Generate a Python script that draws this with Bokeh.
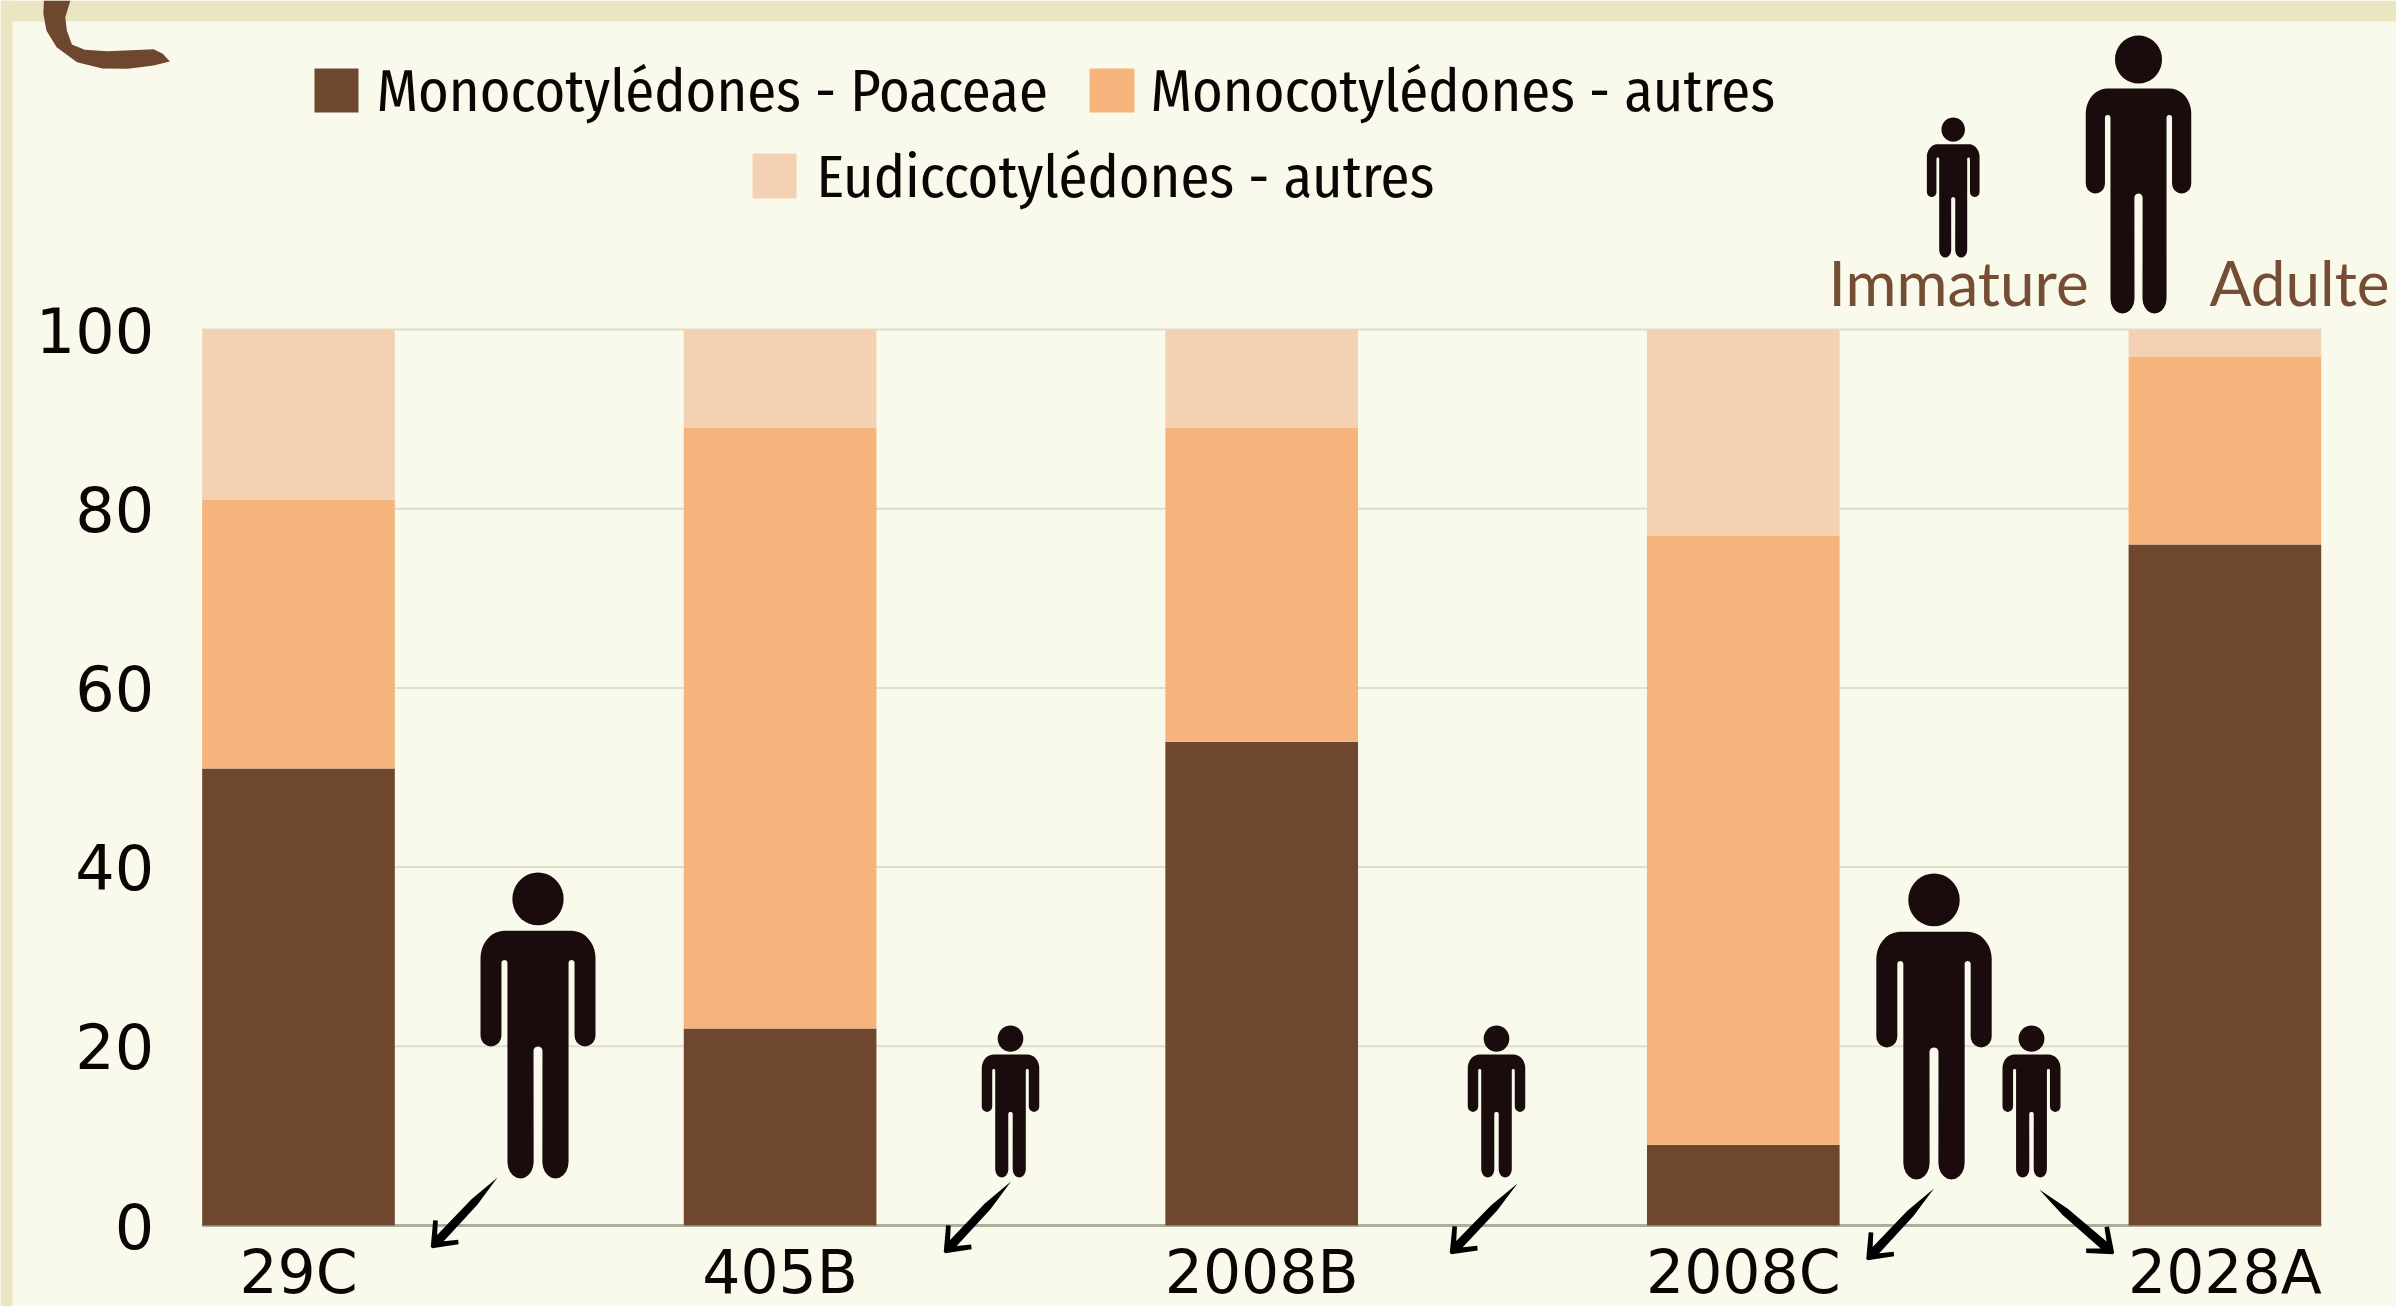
import math
from bokeh.plotting import figure
from bokeh.models import Range1d, FixedTicker, PolyAnnotation, Label, ColumnDataSource
from bokeh.embed import file_html
from bokeh.resources import INLINE

# ---- data ----
categories = ["29C", "405B", "2008B", "2008C", "2028A"]
poaceae = [51, 22, 54, 9, 76]
mono_autres = [30, 67, 35, 68, 21]
eudi_autres = [19, 11, 11, 23, 3]
series_names = ["Monocotylédones - Poaceae", "Monocotylédones - autres", "Eudiccotylédones - autres"]
y_ticks = [0, 20, 40, 60, 80, 100]

BROWN, ORANGE, PEACH = "#6F472F", "#F5B47C", "#F5D1B3"
BG, EDGE, INK, FIG = "#F9FAEB", "#EAE6C2", "#0A0604", "#1A0B0D"
W, H = 2396, 1306
OFF = 0
X_UNIT, X0 = 481.6, 298     # reference pixels per category, centre of the first one
Y_UNIT, Y0 = 8.96, 1225     # reference pixels per percent, baseline


def xv(px):
    return (px - X0) / X_UNIT


def yv(py):
    return (Y0 - py) / Y_UNIT


x_pos = list(range(len(categories)))
src = ColumnDataSource(dict(x=x_pos, a=poaceae, b=mono_autres, c=eudi_autres))

p = figure(width=W, height=H, output_backend="svg", toolbar_location=None,
           x_range=Range1d(xv(OFF), xv(OFF + W)), y_range=Range1d(yv(OFF + H), yv(OFF)),
           min_border=0, background_fill_color=BG, border_fill_color=BG, outline_line_color=None)

p.xgrid.visible = False
p.ygrid.visible = False
BAR_W = 0.4
left, right = -BAR_W / 2, x_pos[-1] + BAR_W / 2
grid_ticks = [t for t in y_ticks if t != 0]
p.segment(x0=[left] * len(grid_ticks), x1=[right] * len(grid_ticks), y0=grid_ticks, y1=grid_ticks,
          line_color="#DEDFCB", line_width=2, level="underlay")
p.segment(x0=[left], x1=[right], y0=[0], y1=[0], line_color="#ADAD9C", line_width=3, level="underlay")

p.vbar_stack(["a", "b", "c"], x="x", width=BAR_W, source=src,
             color=[BROWN, ORANGE, PEACH], line_color=None)

FONT = "DejaVu Sans"
for ax in (p.xaxis[0], p.yaxis[0]):
    ax.axis_line_color = None
    ax.major_tick_line_color = None
    ax.minor_tick_line_color = None
    ax.major_label_text_font = FONT
    ax.major_label_text_font_size = "62px"
    ax.major_label_text_color = INK
p.xaxis[0].ticker = FixedTicker(ticks=x_pos)
p.xaxis[0].major_label_overrides = {i: c for i, c in enumerate(categories)}
p.xaxis[0].major_label_text_font_size = "60px"
p.xaxis[0].major_label_standoff = 5
p.xaxis[0].fixed_location = 0
p.yaxis[0].ticker = FixedTicker(ticks=y_ticks)
p.yaxis[0].major_label_standoff = 42
p.yaxis[0].fixed_location = left


def poly(pts, color):
    p.add_layout(PolyAnnotation(xs=[a - OFF for a, _ in pts], ys=[b - OFF for _, b in pts],
                                xs_units="canvas", ys_units="canvas",
                                fill_color=color, fill_alpha=1, line_color=None, line_alpha=0,
                                level="annotation"))


TEXT_DROP = 24  # a canvas-unit label draws this much below the y it is given, at these sizes


def label(txt, x, y, color=INK, font=FONT, size="58px"):
    p.add_layout(Label(x=x - OFF, y=y - OFF - TEXT_DROP, x_units="canvas", y_units="canvas", text=txt,
                       text_color=color, text_font=font, text_font_size=size,
                       text_baseline="alphabetic", text_align="left"))


def rect(l, t, r, b, color):
    poly([(l, t), (r, t), (r, b), (l, b)], color)


# page frame
rect(0, 0, 2396, 21, EDGE)
rect(0, 0, 12, 1306, EDGE)

# curl at top left
curl = [(85, 0), (84, 40), (90, 90), (110, 140), (150, 185), (200, 204), (250, 205), (300, 195), (332, 183),
        (318, 160), (300, 146), (210, 152), (165, 148), (140, 132), (130, 90), (127, 50), (137, 0)]
poly([(a / 1.96, b / 3) for a, b in curl], BROWN)

# legend
rect(314, 68, 358, 112, BROWN)
rect(1089, 68, 1134, 112, ORANGE)
rect(752, 153, 796, 198, PEACH)
LEG = "Fira Sans Condensed, Noto Sans"
label(series_names[0], 376, 115, font=LEG, size="58.5px")
label(series_names[1], 1150, 115, font=LEG, size="58.5px")
label(series_names[2], 816, 201, font=LEG, size="58.5px")


def arc(cx, cy, rx, ry, a0, a1, n=10):
    return [(cx + rx * math.cos(math.radians(a0 + (a1 - a0) * i / n)),
             cy + ry * math.sin(math.radians(a0 + (a1 - a0) * i / n))) for i in range(n + 1)]


def person_outline():
    o = []
    o += arc(31, 78, 21.7, 25, -90, 0)
    o += arc(43.1, 148, 9.6, 10, 0, 180)
    o += arc(30.75, 82, 2.75, 2.5, 0, -180)
    o += arc(16, 263, 12, 15, 0, 180)
    o += arc(0, 162, 4.1, 4, 0, -180)
    o += arc(-16, 263, 12, 15, 0, 180)
    o += arc(-30.75, 82, 2.75, 2.5, 0, -180)
    o += arc(-43.1, 148, 9.6, 10, 0, 180)
    o += arc(-31, 78, 21.7, 25, 180, 270)
    return o


HEAD = arc(0, 24, 23.5, 24, 0, 360, 36)
BODY = person_outline()


def person(cx, top, bottom, width):
    sy = (bottom - top) / 278
    sx = width / 105.4
    for shape in (HEAD, BODY):
        poly([(cx + a * sx, top + b * sy) for a, b in shape], FIG)


person(1952.7, 117, 257, 52.7)
person(2138, 35, 313, 105.5)
person(537.5, 872, 1178, 115)
person(1010, 1025, 1177, 57.5)
person(1496, 1025, 1177, 57.5)
person(1933.5, 873, 1179, 115.4)
person(2031, 1025, 1177, 58)


def arrow(x0, y0, x1, y1):
    L = math.hypot(x1 - x0, y1 - y0)
    dx, dy = (x1 - x0) / L, (y1 - y0) / L
    nx, ny = -dy, dx

    def q(t, s):
        return (x0 + dx * t + nx * s, y0 + dy * t + ny * s)
    poly([q(0, 0), q(L * 0.35, 4), q(L - 13, 4.5), q(L - 24, 14), q(L - 21, 17.5), q(L, 1), q(L, -1),
          q(L - 21, -17.5), q(L - 24, -14), q(L - 13, -4.5), q(L * 0.35, -4)], "#000000")


arrow(497, 1177, 431, 1247)
arrow(1010.5, 1181, 944, 1252)
arrow(1517, 1183, 1450, 1253)
arrow(1933.5, 1188, 1866.5, 1259)
arrow(2038.7, 1189, 2113, 1253)

# key to the figures
KEY = "Lato"
label("Immature", 1828, 305, color="#754D35", font=KEY, size="62px")
label("Adulte", 2209, 305, color="#754D35", font=KEY, size="62px")

open("out.html", "w").write(file_html(p, INLINE))
